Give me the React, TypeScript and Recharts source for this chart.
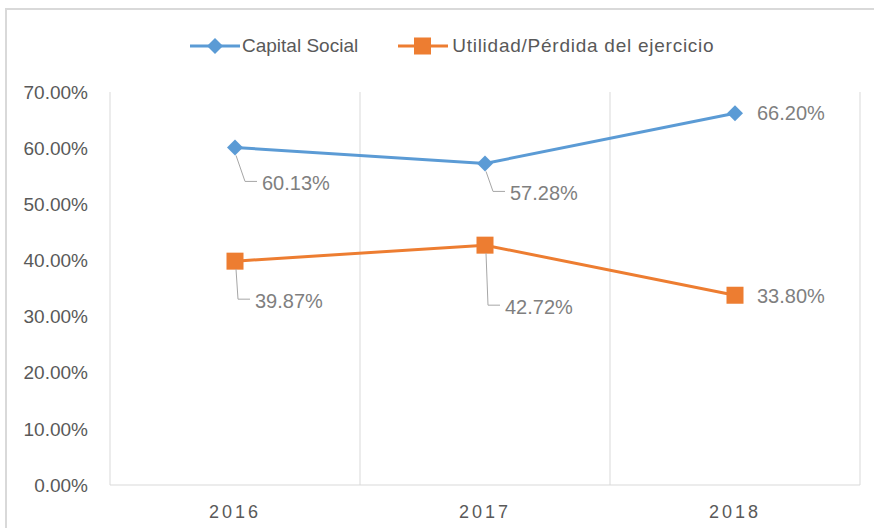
import { LineChart, Line, XAxis, YAxis, CartesianGrid, LabelList } from 'recharts';

const years = ['2016', '2017', '2018'];
const capitalSocial = [60.13, 57.28, 66.2];
const utilidad = [39.87, 42.72, 33.8];
const yTicks = [0, 10, 20, 30, 40, 50, 60, 70];

const BLUE = '#5B9BD5';
const ORANGE = '#ED7D31';
const FONT = '"Liberation Sans", Arial, sans-serif';

const data = years.map((year, i) => ({
  year,
  capital: capitalSocial[i],
  utilidad: utilidad[i],
}));

// label offsets (dx, dy) from each point, Excel-style with leader lines on first two
const capitalLabelPos = [
  { dx: 27, dy: 36, leader: true },
  { dx: 25, dy: 30, leader: true },
  { dx: 22, dy: 0, leader: false },
];
const utilidadLabelPos = [
  { dx: 20, dy: 40, leader: true },
  { dx: 20, dy: 62, leader: true },
  { dx: 22, dy: 1, leader: false },
];

const makeLabel = (pos: { dx: number; dy: number; leader: boolean }[]) => (props: any) => {
  const { x, y, value, index } = props;
  const p = pos[index];
  if (!p) return null;
  const tx = x + p.dx;
  const ty = y + p.dy;
  return (
    <g>
      {p.leader && (
        <polyline
          points={`${x + 1},${y + 8} ${tx - 17},${ty - 2} ${tx - 5},${ty - 2}`}
          fill="none"
          stroke="#a6a6a6"
          strokeWidth={1}
        />
      )}
      <text x={tx} y={ty} dy="0.35em" fill="#7f7f7f" fontSize={20} fontFamily={FONT} textAnchor="start">
        {value.toFixed(2)}%
      </text>
    </g>
  );
};

const Diamond = (props: any) => {
  const { cx, cy } = props;
  if (cx == null || cy == null) return null;
  const r = 8;
  return <polygon points={`${cx},${cy - r} ${cx + r},${cy} ${cx},${cy + r} ${cx - r},${cy}`} fill={BLUE} />;
};

const Square = (props: any) => {
  const { cx, cy } = props;
  if (cx == null || cy == null) return null;
  const r = 8.5;
  return <rect x={cx - r} y={cy - r} width={r * 2} height={r * 2} fill={ORANGE} />;
};

const LegendBar = () => (
  <div
    style={{
      position: 'absolute',
      top: 35,
      left: 190,
      display: 'flex',
      alignItems: 'center',
      fontFamily: FONT,
      fontSize: 19,
      color: '#595959',
      whiteSpace: 'nowrap',
    }}
  >
    <svg width={50} height={18}>
      <line x1={0} y1={9} x2={50} y2={9} stroke={BLUE} strokeWidth={3} />
      <polygon points="25,1 33,9 25,17 17,9" fill={BLUE} />
    </svg>
    <span style={{ marginLeft: 2, marginRight: 40 }}>Capital Social</span>
    <svg width={50} height={18}>
      <line x1={0} y1={9} x2={50} y2={9} stroke={ORANGE} strokeWidth={3} />
      <rect x={16} y={0.5} width={17} height={17} fill={ORANGE} />
    </svg>
    <span style={{ marginLeft: 4, letterSpacing: 0.75 }}>Utilidad/Pérdida del ejercicio</span>
  </div>
);

export default function App() {
  return (
    <div style={{ position: 'absolute', left: 0, top: 0, width: 874, height: 528, overflow: 'hidden', background: '#fff' }}>
      <div
        style={{
          position: 'absolute',
          left: 5,
          top: 8,
          width: 900,
          height: 560,
          border: '2px solid #d9d9d9',
        }}
      />
      <LegendBar />
      <div style={{ position: 'absolute', left: 0, top: 0 }}>
        <LineChart width={874} height={528} data={data} margin={{ top: 92, right: 14, left: 0, bottom: 0 }}>
          <CartesianGrid
            horizontal={false}
            stroke="#d9d9d9"
            verticalCoordinatesGenerator={({ offset }: any) => [
              offset.left,
              offset.left + offset.width / 3,
              offset.left + (offset.width * 2) / 3,
              offset.left + offset.width,
            ]}
          />
          <XAxis
            dataKey="year"
            height={43}
            padding={{ left: 125, right: 125 }}
            axisLine={{ stroke: '#d9d9d9', strokeWidth: 1 }}
            tickLine={false}
            tickSize={0}
            tickMargin={20}
            tick={{ fill: '#595959', fontSize: 18, fontFamily: FONT, letterSpacing: 3 }}
          />
          <YAxis
            width={110}
            domain={[0, 70]}
            ticks={yTicks}
            axisLine={false}
            tickLine={false}
            tickSize={0}
            tickMargin={22}
            tickFormatter={(v: number) => `${v.toFixed(2)}%`}
            tick={{ fill: '#595959', fontSize: 19, fontFamily: FONT }}
          />
          <Line
            dataKey="capital"
            stroke={BLUE}
            strokeWidth={3}
            dot={<Diamond />}
            activeDot={false}
            isAnimationActive={false}
          >
            <LabelList dataKey="capital" content={makeLabel(capitalLabelPos)} />
          </Line>
          <Line
            dataKey="utilidad"
            stroke={ORANGE}
            strokeWidth={3}
            dot={<Square />}
            activeDot={false}
            isAnimationActive={false}
          >
            <LabelList dataKey="utilidad" content={makeLabel(utilidadLabelPos)} />
          </Line>
        </LineChart>
      </div>
    </div>
  );
}
